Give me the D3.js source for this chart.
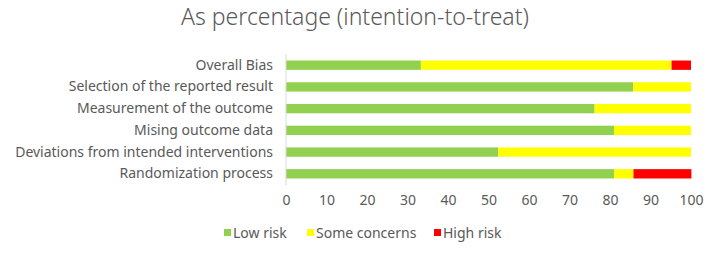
<!DOCTYPE html>
<html><head><meta charset="utf-8">
<script src="https://cdn.jsdelivr.net/npm/d3@7"></script>
<style>body{margin:0;background:#fff}svg{display:block}text{font-family:"Noto Sans",sans-serif}</style>
</head><body><svg id="c" width="708" height="254"></svg>
<script>
const categories = ["Overall Bias","Selection of the reported result","Measurement of the outcome","Mising outcome data","Deviations from intended interventions","Randomization process"];
const lowRisk = [33.3, 85.7, 76.2, 81.0, 52.4, 81.0];
const someConcerns = [61.9, 14.3, 23.8, 19.0, 47.6, 4.8];
const highRisk = [4.8, 0, 0, 0, 0, 14.3];
const seriesNames = ["Low risk","Some concerns","High risk"];
const colors = ["#92D050","#FFFF00","#FF0000"];
const tickValues = [0,10,20,30,40,50,60,70,80,90,100];

const svg = d3.select("#c");
const x = d3.scaleLinear().domain([0,100]).range([286,691]);
const y = d3.scaleBand().domain(categories).range([54,185]).paddingInner(0.57).paddingOuter(0.3);

const rows = categories.map((c,i)=>({cat:c, "Low risk":lowRisk[i], "Some concerns":someConcerns[i], "High risk":highRisk[i]}));
const stacked = d3.stack().keys(seriesNames)(rows);

svg.append("text").attr("x",355).attr("y",25).attr("text-anchor","middle")
  .attr("font-size",23).attr("fill","#595959").attr("font-weight",300).text("As percentage (intention-to-treat)");

stacked.forEach((s,k)=>{
  svg.append("g").selectAll("rect").data(s).join("rect")
    .attr("x",d=>x(d[0])).attr("width",d=>x(d[1])-x(d[0]))
    .attr("y",d=>y(d.data.cat)).attr("height",y.bandwidth())
    .attr("fill",colors[k]);
});

svg.append("line").attr("x1",286).attr("x2",286).attr("y1",54).attr("y2",185).attr("stroke","#D9D9D9").attr("stroke-width",1);

const yAxis = svg.append("g").attr("transform","translate(286,0)").call(d3.axisLeft(y).tickSize(0).tickPadding(13));
yAxis.select(".domain").remove();
yAxis.selectAll("text").attr("font-size",14).attr("fill","#595959").style("font-family","Noto Sans");

const xAxis = svg.append("g").attr("transform","translate(0,193)").call(d3.axisBottom(x).tickValues(tickValues).tickSize(0).tickPadding(0));
xAxis.select(".domain").remove();
xAxis.selectAll("text").attr("font-size",14).attr("fill","#595959").attr("dy","0.85em").style("font-family","Noto Sans");

const legX = [224, 307, 434];
const lg = svg.append("g");
seriesNames.forEach((n,i)=>{
  lg.append("rect").attr("x",legX[i]).attr("y",229).attr("width",7).attr("height",7).attr("fill",colors[i]);
  lg.append("text").attr("x",legX[i]+9).attr("y",238).attr("font-size",14).attr("fill","#595959").text(n);
});
</script></body></html>
